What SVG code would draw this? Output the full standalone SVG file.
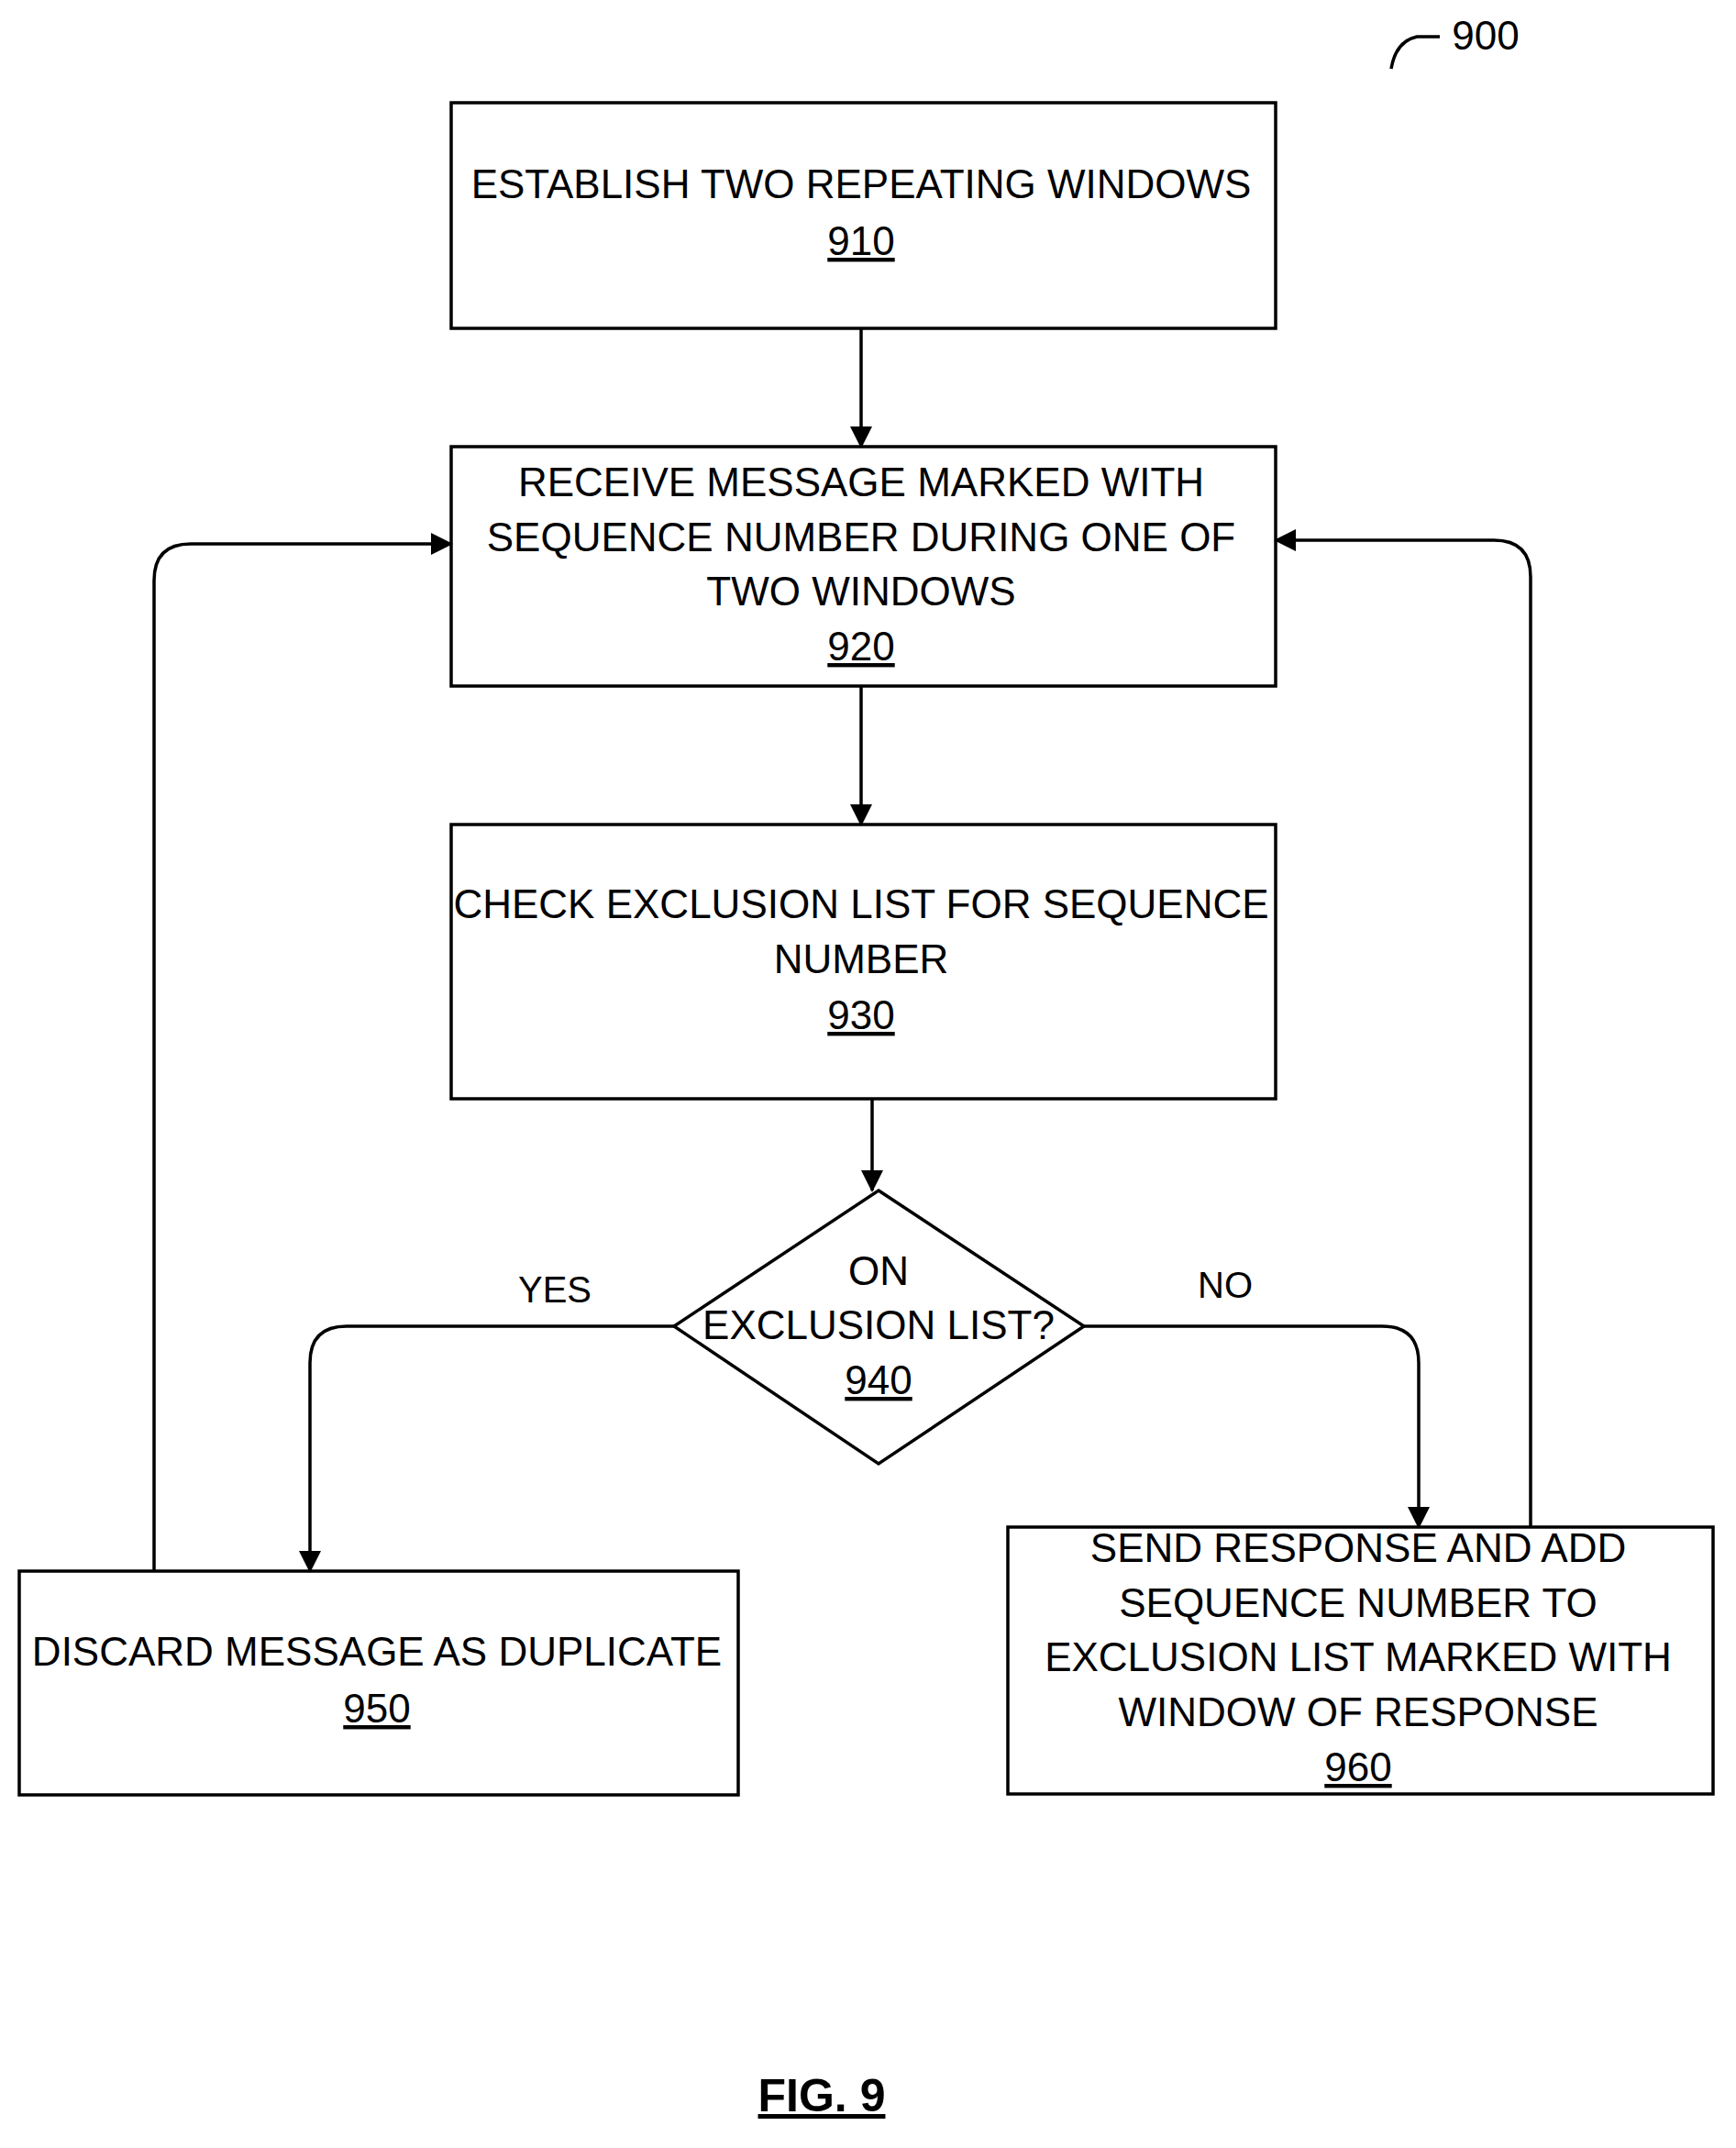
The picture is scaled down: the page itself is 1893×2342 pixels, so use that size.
<svg xmlns="http://www.w3.org/2000/svg" width="1893" height="2342" viewBox="0 0 1893 2342">
<style>
.b{fill:#fff;stroke:#000;stroke-width:3.5}
.t{font-family:"Liberation Sans Narrow","Liberation Sans",Arial,sans-serif;font-size:44px;text-anchor:middle;fill:#000}
.u{text-decoration:underline}
.c{fill:none;stroke:#000;stroke-width:3.5}
</style>
<defs><marker id="a" markerWidth="12" markerHeight="12" refX="11" refY="6" orient="auto" markerUnits="userSpaceOnUse" viewBox="0 0 12 12"><path d="M0,0L12,6L0,12z" fill="#000"/></marker>
<marker id="A" viewBox="0 0 24 24" markerWidth="24" markerHeight="44" refX="22" refY="12" orient="auto" markerUnits="userSpaceOnUse"><path d="M0,0L24,12L0,24z" fill="#000"/></marker></defs>
<rect width="1893" height="2342" fill="#fff"/>
<g id="n910"><rect class="b" x="492" y="112" width="899" height="246"/><text class="t" x="939" y="216">ESTABLISH TWO REPEATING WINDOWS</text><text class="t u" x="939" y="278">910</text></g>
<g id="n920"><rect class="b" x="492" y="487" width="899" height="261"/><text class="t" x="939" y="541">RECEIVE MESSAGE MARKED WITH</text><text class="t" x="939" y="601">SEQUENCE NUMBER DURING ONE OF</text><text class="t" x="939" y="660">TWO WINDOWS</text><text class="t u" x="939" y="720">920</text></g>
<g id="n930"><rect class="b" x="492" y="899" width="899" height="299"/><text class="t" x="939" y="1001">CHECK EXCLUSION LIST FOR SEQUENCE</text><text class="t" x="939" y="1061">NUMBER</text><text class="t u" x="939" y="1122">930</text></g>
<g id="n940"><polygon class="b" points="958,1298 1182,1446 958,1596 735,1446"/><text class="t" x="958" y="1401">ON</text><text class="t" x="958" y="1460">EXCLUSION LIST?</text><text class="t u" x="958" y="1520">940</text></g>
<g id="n950"><rect class="b" x="21" y="1713" width="784" height="244"/><text class="t" x="411" y="1816">DISCARD MESSAGE AS DUPLICATE</text><text class="t u" x="411" y="1878">950</text></g>
<g id="n960"><rect class="b" x="1099" y="1665" width="769" height="291"/><text class="t" x="1481" y="1703">SEND RESPONSE AND ADD</text><text class="t" x="1481" y="1763">SEQUENCE NUMBER TO</text><text class="t" x="1481" y="1822">EXCLUSION LIST MARKED WITH</text><text class="t" x="1481" y="1882">WINDOW OF RESPONSE</text><text class="t u" x="1481" y="1942">960</text></g>
<g id="connectors">
<path class="c" d="M939,358V487" marker-end="url(#A)"/>
<path class="c" d="M939,748V899" marker-end="url(#A)"/>
<path class="c" d="M951,1198V1298" marker-end="url(#A)"/>
<path class="c" d="M735,1446H378Q338,1446 338,1486V1713" marker-end="url(#A)"/>
<path class="c" d="M1182,1446H1507Q1547,1446 1547,1486V1665" marker-end="url(#A)"/>
<path class="c" d="M168,1713V633Q168,593 208,593H492" marker-end="url(#A)"/>
<path class="c" d="M1669,1665V629Q1669,589 1629,589H1391" marker-end="url(#A)"/>
<path class="c" d="M1517,75Q1522,45 1545,40H1570"/>
</g>
<text class="t" x="605" y="1420" style="font-size:40px">YES</text>
<text class="t" x="1336" y="1415" style="font-size:40px">NO</text>
<text class="t" x="1620" y="54">900</text>
<text class="t u" x="896" y="2302" style="font-weight:bold;font-size:50px">FIG. 9</text>
</svg>
